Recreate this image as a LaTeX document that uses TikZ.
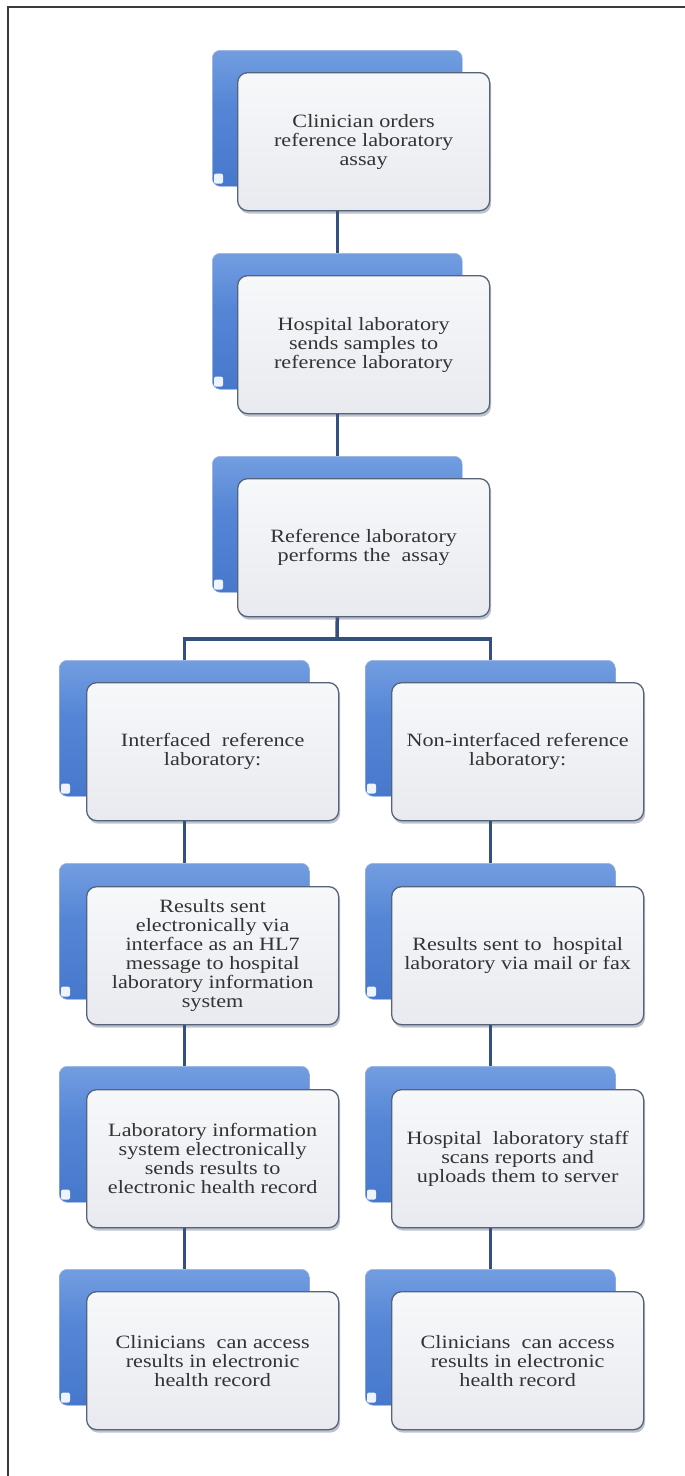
\documentclass[tikz,border=0pt]{standalone}
\usepackage{fontspec}
\setmainfont{Liberation Serif}[FakeStretch=1.18]
\usetikzlibrary{shadows}

\definecolor{framegray}{HTML}{3A3A3A}
\definecolor{linkblue}{HTML}{34507E}
\definecolor{edgegray}{HTML}{56647A}
\definecolor{cardtop}{HTML}{F7F8FA}
\definecolor{cardbot}{HTML}{E8EAEF}
\definecolor{inkgray}{HTML}{333333}
\definecolor{curlwhite}{HTML}{EEF4FD}
\definecolor{tabedge}{HTML}{9DB6E0}
\definecolor{shadowgray}{HTML}{6E7890}
\definecolor{tabA}{HTML}{3A6CC4}
\definecolor{tabB}{HTML}{5586D6}
\definecolor{tabC}{HTML}{7AA3E3}
\definecolor{tabD}{HTML}{B9D0F3}
\definecolor{tabE}{HTML}{E6EFFB}

% blue tab behind every card: light band on top, saturated blue below
\pgfdeclareverticalshading{tabblue}{100bp}{%
  color(0bp)=(tabA); color(55bp)=(tabB);
  color(80bp)=(tabC); color(88bp)=(tabD);
  color(100bp)=(tabE)}

\tikzset{
  tab/.style={rounded corners=8pt, minimum width=250pt, minimum height=136pt,
    inner sep=0pt, anchor=north west, shading=tabblue, draw=tabedge,
    line width=0.6pt},
  card/.style={rounded corners=10pt, minimum width=252pt, minimum height=138pt,
    inner sep=4pt, anchor=north west, draw=edgegray, line width=1.3pt,
    top color=cardtop, bottom color=cardbot, text=inkgray, align=center,
    font=\fontsize{18.8}{19}\selectfont,
    drop shadow={shadow xshift=1.5pt, shadow yshift=-3pt, opacity=0.45, fill=shadowgray}},
  link/.style={draw=linkblue, line width=3.5pt},
  curl/.style={fill=curlwhite, rounded corners=2pt}
}

\begin{document}
\begin{tikzpicture}[x=1pt,y=-1pt]
\useasboundingbox (0,0) rectangle (685,1476);
\fill[white] (0,0) rectangle (685,1476);

% page frame (top and left edges)
\draw[framegray, line width=2pt] (8,1476) -- (8,7) -- (685,7);

% blue tabs
\node[tab] (b1) at (212,50) {};
\node[tab] (b2) at (212,253) {};
\node[tab] (b3) at (212,456) {};
\node[tab] (b4l) at (59,660) {};
\node[tab] (b4r) at (365,660) {};
\node[tab] (b5l) at (59,863) {};
\node[tab] (b5r) at (365,863) {};
\node[tab] (b6l) at (59,1066) {};
\node[tab] (b6r) at (365,1066) {};
\node[tab] (b7l) at (59,1269) {};
\node[tab] (b7r) at (365,1269) {};

\foreach \t in {b1,b2,b3,b4l,b4r,b5l,b5r,b6l,b6r,b7l,b7r}{
  \path[curl] ([shift={(2,-3)}]\t.south west) rectangle ([shift={(11,-13)}]\t.south west);
}

% cards
\node[card] (f1) at (237,72) {Clinician orders\\reference laboratory\\assay};
\node[card] (f2) at (237,275) {Hospital laboratory\\sends samples to\\reference laboratory};
\node[card] (f3) at (237,478) {Reference laboratory\\performs the\ \ assay};
\node[card] (f4l) at (86,682) {Interfaced\ \ reference\\laboratory:};
\node[card] (f4r) at (391,682) {Non-interfaced reference\\laboratory:};
\node[card] (f5l) at (86,886) {Results sent\\electronically via\\interface as an HL7\\message to hospital\\laboratory information\\system};
\node[card] (f5r) at (391,886) {Results sent to\ \ hospital\\laboratory via mail or fax};
\node[card] (f6l) at (86,1089) {Laboratory information\\system electronically\\sends results to\\electronic health record};
\node[card] (f6r) at (391,1089) {Hospital\ \ laboratory staff\\scans reports and\\uploads them to server};
\node[card] (f7l) at (86,1291) {Clinicians\ \ can access\\results in electronic\\health record};
\node[card] (f7r) at (391,1291) {Clinicians\ \ can access\\results in electronic\\health record};

% connectors
\coordinate (fork) at (337,639);
\path[link] (b1.center |- f1.south) -- (b2.north);
\path[link] (b2.center |- f2.south) -- (b3.north);
\path[link] (b3.center |- f3.south) -- (fork);
\path[link] (b4l.north) |- (fork) -| (b4r.north);
\path[link] (b4l.center |- f4l.south) -- (b5l.north);
\path[link] (b5l.center |- f5l.south) -- (b6l.north);
\path[link] (b6l.center |- f6l.south) -- (b7l.north);
\path[link] (b4r.center |- f4r.south) -- (b5r.north);
\path[link] (b5r.center |- f5r.south) -- (b6r.north);
\path[link] (b6r.center |- f6r.south) -- (b7r.north);
\end{tikzpicture}
\end{document}
